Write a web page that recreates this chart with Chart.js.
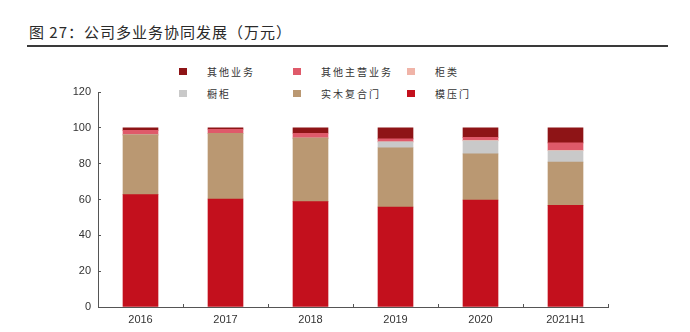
<!DOCTYPE html>
<html>
<head>
<meta charset="utf-8">
<script src="https://cdn.jsdelivr.net/npm/chart.js@4"></script>
<style>
  body { margin: 0; background: #fff; }
  #wrap { position: relative; width: 690px; height: 332px; }
  #titulo {
    position: absolute; left: 29px; top: 21px;
    font: 15px "Noto Sans CJK SC", sans-serif; color: #2a2a2a; letter-spacing: 1px;
  }
  #linha { position: absolute; left: 27px; top: 45px; width: 641px; height: 2px; background: #3a3a3a; }
  #legenda { position: absolute; left: 179px; top: 64px; width: 360px; }
  .item { position: absolute; font: 10px "Noto Sans CJK SC", sans-serif; color: #333; letter-spacing: 2px; }
  .item span.caixa { position: absolute; left: 0; top: 4px; width: 8px; height: 7px; }
  .item span.txt { position: absolute; left: 28px; top: 0; white-space: nowrap; line-height: 16px; }
  canvas { position: absolute; left: 0; top: 0; }
</style>
</head>
<body>
<div id="wrap">
  <div id="titulo">图 27：公司多业务协同发展（万元）</div>
  <div id="linha"></div>
  <div id="legenda"></div>
  <canvas id="grafico" width="690" height="332"></canvas>
</div>
<script>
const anos = ["2016", "2017", "2018", "2019", "2020", "2021H1"];
const modelado = [62.7, 60.3, 58.8, 55.8, 59.7, 56.7];
const madeira = [33.4, 36.7, 35.5, 33.1, 25.8, 24.2];
const armario = [0, 0, 0, 3.3, 7.2, 6.3];
const gabinete = [0, 0, 0, 0, 0.3, 0.3];
const outrosPrincipais = [2.5, 2.2, 2.7, 1.6, 1.7, 4.1];
const outros = [1.4, 0.8, 3.0, 6.2, 5.3, 8.4];
const ticksY = [0, 20, 40, 60, 80, 100, 120];

const series = [
  { label: "模压门", data: modelado, backgroundColor: "#C3101D" },
  { label: "实木复合门", data: madeira, backgroundColor: "#BA9872" },
  { label: "橱柜", data: armario, backgroundColor: "#C9C9C9" },
  { label: "柜类", data: gabinete, backgroundColor: "#F0B4A8" },
  { label: "其他主营业务", data: outrosPrincipais, backgroundColor: "#DF5A6A" },
  { label: "其他业务", data: outros, backgroundColor: "#8E1416" },
];

// legenda em grade 3x2, na ordem inversa
let legenda = document.getElementById("legenda");
let ordem = series.slice().reverse();
for (let i = 0; i < ordem.length; i++) {
  let div = document.createElement("div");
  div.className = "item";
  div.style.left = (i % 3) * 114 + "px";
  div.style.top = Math.floor(i / 3) * 22 + "px";
  div.innerHTML = '<span class="caixa" style="background:' + ordem[i].backgroundColor + '"></span><span class="txt">' + ordem[i].label + "</span>";
  legenda.appendChild(div);
}

new Chart(document.getElementById("grafico"), {
  type: "bar",
  data: {
    labels: anos,
    datasets: series.map(function (s) {
      return { label: s.label, data: s.data, backgroundColor: s.backgroundColor, barThickness: 35, borderWidth: 0 };
    }),
  },
  options: {
    responsive: false,
    animation: false,
    layout: { padding: { top: 92, right: 82, left: 0, bottom: 0 } },
    plugins: {
      legend: { display: false },
      tooltip: { enabled: false },
    },
    scales: {
      x: {
        stacked: true,
        afterFit: function (scale) { scale.height = 25; },
        // marcas para dentro
        grid: { display: true, drawOnChartArea: false, tickLength: -3, color: "#555", offset: true },
        border: { color: "#555", width: 1 },
        ticks: { color: "#333", font: { family: "Liberation Sans", size: 11 }, padding: 9 },
      },
      y: {
        stacked: true,
        min: 0,
        max: 120,
        afterFit: function (scale) { scale.width = 98; },
        afterBuildTicks: function (scale) { scale.ticks = ticksY.map(function (v) { return { value: v }; }); },
        grid: { display: true, drawOnChartArea: false, tickLength: -3, color: "#555" },
        border: { color: "#555", width: 1 },
        ticks: { color: "#333", font: { family: "Liberation Sans", size: 11 }, padding: 10 },
      },
    },
  },
});
</script>
</body>
</html>
